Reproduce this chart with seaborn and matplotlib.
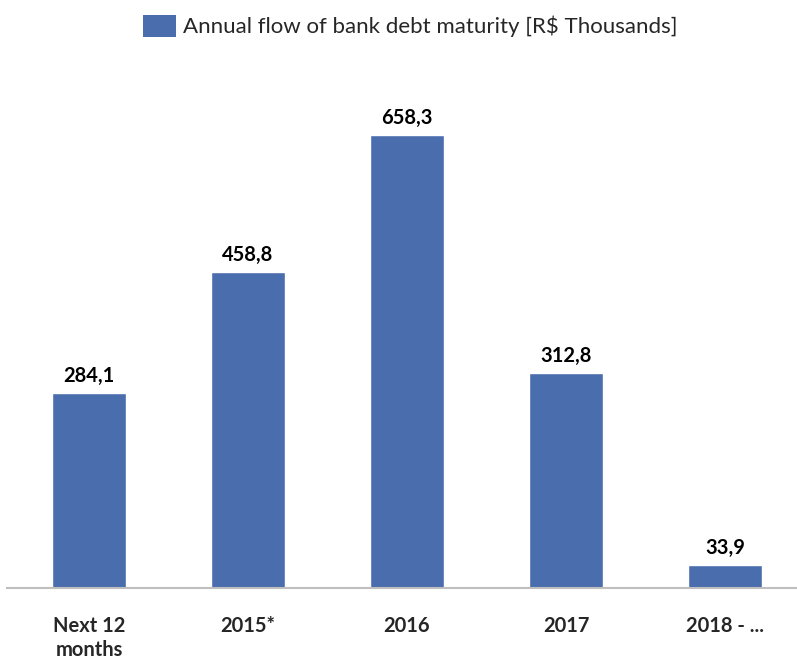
import matplotlib
matplotlib.use("Agg")
import matplotlib.pyplot as plt
import seaborn as sns
import pandas as pd
from matplotlib.patches import Patch

categories = ["Next 12\nmonths", "2015*", "2016", "2017", "2018 - ..."]
values = [284.1, 458.8, 658.3, 312.8, 33.9]
value_labels = ["284,1", "458,8", "658,3", "312,8", "33,9"]
series_name = "Annual flow of bank debt maturity [R$ Thousands]"

sns.set_theme(style="white")
plt.rcParams["font.family"] = ["Lato", "DejaVu Sans"]

color = "#4A6DAD"
df = pd.DataFrame({"cat": categories, "val": values})

fig = plt.figure(figsize=(7.97, 6.61), dpi=100)
ax = fig.add_axes([7/797, (661-588)/661, 1 - 7/797, (588-80)/661])
sns.barplot(data=df, x="cat", y="val", color=color, width=0.465, ax=ax,
            saturation=1)
ax.set_xlim(-0.516, 4.453)
ax.set_ylim(0, 738.4)
for s in ["top", "right", "left"]:
    ax.spines[s].set_visible(False)
ax.spines["bottom"].set_color("#BFBFBF")
ax.spines["bottom"].set_linewidth(1.5)
ax.set_yticks([])
ax.set_xlabel("")
ax.set_ylabel("")
ax.tick_params(axis="x", length=0, pad=20)
for lbl in ax.get_xticklabels():
    lbl.set_fontweight("bold")
    lbl.set_fontsize(14.5)
    lbl.set_verticalalignment("top")
    lbl.set_linespacing(1.25)

for i, (v, t) in enumerate(zip(values, value_labels)):
    ax.annotate(t, (i, v), xytext=(0, 5), textcoords="offset points",
                ha="center", va="bottom", fontsize=14.5, fontweight="bold",
                color="black")

handle = Patch(facecolor=color, edgecolor="none")
fig.legend([handle], [series_name], loc="center", bbox_to_anchor=(410/797, 1 - 26/661),
           frameon=False, fontsize=16, handlelength=1.49, handleheight=1.17,
           handletextpad=0.3)

fig.savefig("out.png", dpi=100)
